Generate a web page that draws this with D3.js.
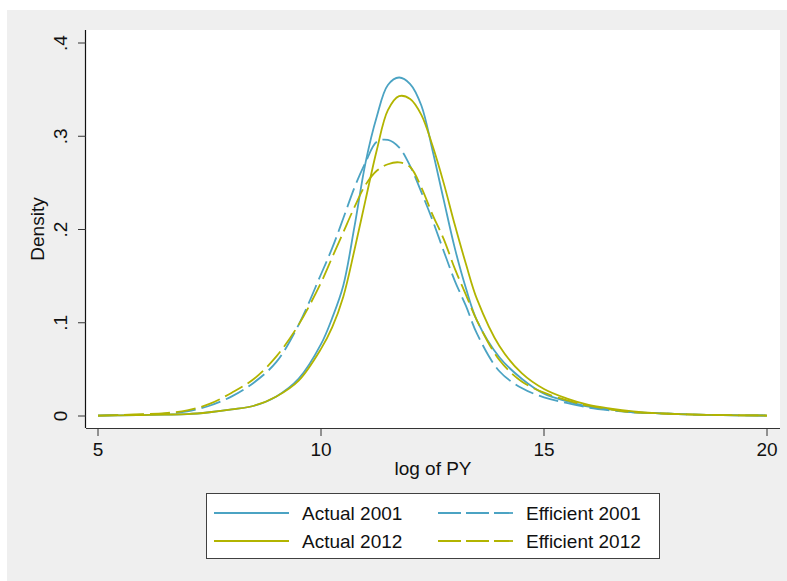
<!DOCTYPE html>
<html>
<head>
<meta charset="utf-8">
<script src="https://cdnjs.cloudflare.com/ajax/libs/d3/7.8.5/d3.min.js"></script>
<style>
  body { margin: 0; background: #fff; }
  svg { display: block; font-family: "Liberation Sans", Arial, sans-serif; }
</style>
</head>
<body>
<svg id="chart" width="787" height="581"></svg>
<script>
// log of PY grid
const xs = [5, 5.5, 6, 6.5, 7, 7.5, 8, 8.5, 9, 9.5, 10, 10.25, 10.5, 10.75, 11, 11.25, 11.5, 11.75,
  12, 12.25, 12.5, 12.75, 13, 13.25, 13.5, 14, 14.5, 15, 15.5, 16, 16.5, 17, 17.5, 18, 19, 20];

const actual2001 = [0.0005, 0.0007, 0.001, 0.0015, 0.002, 0.004, 0.007, 0.011, 0.021, 0.040, 0.077, 0.105,
  0.140, 0.203, 0.272, 0.321, 0.355, 0.363, 0.356, 0.333, 0.285, 0.232, 0.180, 0.137, 0.102, 0.063,
  0.040, 0.024, 0.016, 0.010, 0.007, 0.004, 0.003, 0.002, 0.001, 0.0005];
const actual2012 = [0.0005, 0.0007, 0.001, 0.0015, 0.002, 0.004, 0.007, 0.011, 0.021, 0.038, 0.072, 0.095,
  0.128, 0.178, 0.232, 0.285, 0.328, 0.343, 0.340, 0.323, 0.290, 0.250, 0.205, 0.163, 0.125, 0.075,
  0.046, 0.029, 0.019, 0.012, 0.008, 0.005, 0.003, 0.002, 0.001, 0.0005];
const efficient2001 = [0.0005, 0.001, 0.0015, 0.0025, 0.005, 0.011, 0.021, 0.036, 0.058, 0.098, 0.152, 0.180,
  0.212, 0.245, 0.272, 0.294, 0.296, 0.288, 0.268, 0.240, 0.210, 0.177, 0.145, 0.118, 0.088, 0.048,
  0.030, 0.020, 0.014, 0.009, 0.006, 0.004, 0.003, 0.002, 0.001, 0.0005];
const efficient2012 = [0.0005, 0.001, 0.002, 0.003, 0.006, 0.013, 0.025, 0.040, 0.064, 0.098, 0.143, 0.170,
  0.197, 0.224, 0.248, 0.263, 0.270, 0.272, 0.267, 0.245, 0.216, 0.190, 0.158, 0.130, 0.102, 0.060,
  0.037, 0.025, 0.017, 0.011, 0.007, 0.004, 0.003, 0.002, 0.001, 0.0005];

const xTicks = [5, 10, 15, 20];
const yTicks = [0, 0.1, 0.2, 0.3, 0.4];
const yTickLabels = ["0", ".1", ".2", ".3", ".4"];

const series = [
  { name: "Actual 2001", values: actual2001, color: "#4ba3c3", dash: null },
  { name: "Efficient 2001", values: efficient2001, color: "#4ba3c3", dash: "20,6" },
  { name: "Actual 2012", values: actual2012, color: "#b2b400", dash: null },
  { name: "Efficient 2012", values: efficient2012, color: "#b2b400", dash: "20,6" }
];

const svg = d3.select("#chart");
const fontSize = 19;

// outer gray graph region
svg.append("rect").attr("x", 7).attr("y", 10).attr("width", 780).attr("height", 571).attr("fill", "#efefef");

// plot region
const plot = { left: 86, right: 780, top: 30, bottom: 428 };
svg.append("rect")
  .attr("x", plot.left).attr("y", plot.top)
  .attr("width", plot.right - plot.left).attr("height", plot.bottom - plot.top)
  .attr("fill", "#fff");

const x = d3.scaleLinear().domain([5, 20]).range([98, 767]);
const y = d3.scaleLinear().domain([0, 0.4]).range([416, 43]);

// curves
const line = d3.line()
  .x(d => x(d[0]))
  .y(d => y(Math.max(0, d[1])))
  .curve(d3.curveCatmullRom.alpha(0.5));

series.forEach(s => {
  svg.append("path")
    .datum(xs.map((v, i) => [v, s.values[i]]))
    .attr("d", line)
    .attr("fill", "none")
    .attr("stroke", s.color)
    .attr("stroke-width", 1.8)
    .attr("stroke-dasharray", s.dash);
});

// axes
const xAxis = svg.append("g").attr("transform", `translate(0,${plot.bottom})`);
xAxis.append("line").attr("x1", plot.left).attr("x2", plot.right).attr("y1", 0.5).attr("y2", 0.5)
  .attr("stroke", "#333").attr("stroke-width", 1.2);
xTicks.forEach(t => {
  xAxis.append("line").attr("x1", x(t)).attr("x2", x(t)).attr("y1", 0).attr("y2", 8)
    .attr("stroke", "#333");
  xAxis.append("text").attr("x", x(t)).attr("y", 28).attr("text-anchor", "middle")
    .attr("font-size", fontSize).attr("fill", "#111").text(t);
});

const yAxis = svg.append("g").attr("transform", `translate(${plot.left},0)`);
yAxis.append("line").attr("x1", -0.5).attr("x2", -0.5).attr("y1", plot.top).attr("y2", plot.bottom)
  .attr("stroke", "#111").attr("stroke-width", 1.2);
yTicks.forEach((t, i) => {
  yAxis.append("line").attr("x1", -8).attr("x2", 0).attr("y1", y(t)).attr("y2", y(t))
    .attr("stroke", "#333");
  yAxis.append("text")
    .attr("transform", `translate(-19,${y(t)}) rotate(-90)`)
    .attr("text-anchor", "middle").attr("font-size", fontSize).attr("fill", "#111")
    .text(yTickLabels[i]);
});

// axis titles
svg.append("text").attr("x", 433).attr("y", 475).attr("text-anchor", "middle")
  .attr("font-size", fontSize).attr("fill", "#111").text("log of PY");
svg.append("text").attr("transform", "translate(44,229) rotate(-90)")
  .attr("text-anchor", "middle").attr("font-size", fontSize).attr("fill", "#111").text("Density");

// legend
const legend = svg.append("g");
legend.append("rect").attr("x", 206.5).attr("y", 493.5).attr("width", 453).attr("height", 65)
  .attr("fill", "#fff").attr("stroke", "#404040").attr("stroke-width", 1);
const legendItems = [
  { s: series[0], col: 0, row: 0 },
  { s: series[1], col: 1, row: 0 },
  { s: series[2], col: 0, row: 1 },
  { s: series[3], col: 1, row: 1 }
];
const colX = [214, 438];
const rowY = [513, 541];
legendItems.forEach(it => {
  const lx = colX[it.col], ly = rowY[it.row];
  legend.append("line").attr("x1", lx).attr("x2", lx + 75).attr("y1", ly).attr("y2", ly)
    .attr("stroke", it.s.color).attr("stroke-width", 1.8)
    .attr("stroke-dasharray", it.s.dash ? "23,5" : null);
  legend.append("text").attr("x", lx + 88).attr("y", ly + 7)
    .attr("font-size", fontSize).attr("fill", "#111").text(it.s.name);
});
</script>
</body>
</html>
